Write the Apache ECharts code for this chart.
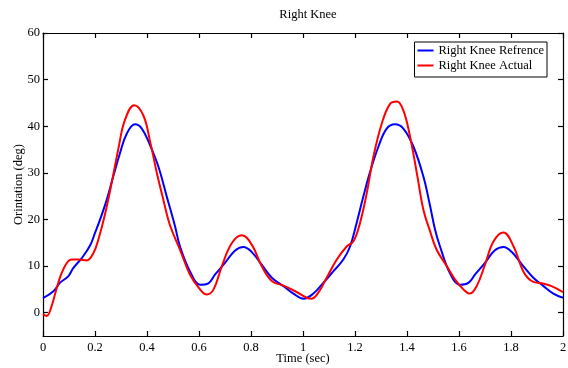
<!DOCTYPE html>
<html>
<head>
<meta charset="utf-8">
<script src="https://cdn.jsdelivr.net/npm/echarts@6/dist/echarts.min.js"></script>
<style>
  html, body { margin: 0; padding: 0; background: #fff; }
  #chart { width: 568px; height: 368px; }
</style>
</head>
<body>
<div id="chart"></div>
<script>
// Right knee orientation over two gait cycles
const refTime  = [0.00, 0.04, 0.065, 0.097, 0.117, 0.149, 0.181, 0.20, 0.219, 0.245, 0.27, 0.296, 0.322, 0.354, 0.38, 0.412, 0.444, 0.476, 0.508,
                  0.527, 0.565, 0.604, 0.636, 0.662, 0.70, 0.738, 0.771, 0.803, 0.841, 0.88, 0.925, 0.963, 1.002,
                  1.04, 1.078, 1.117, 1.155, 1.181, 1.206, 1.232, 1.258, 1.29, 1.322, 1.354, 1.386, 1.425, 1.463, 1.488, 1.508,
                  1.527, 1.565, 1.604, 1.636, 1.662, 1.70, 1.738, 1.771, 1.803, 1.847, 1.886, 1.925, 1.963, 2.00];
const refAngle = [3.1, 4.6, 6.4, 7.8, 9.6, 11.7, 14.4, 17.1, 19.9, 24.2, 29.2, 34.2, 38.4, 40.4, 39.5, 35.9, 31.3, 24.9, 18.5,
                  14.2, 8.9, 6.0, 6.3, 8.2, 10.7, 13.3, 14.1, 13.0, 10.3, 7.5, 5.7, 4.1, 3.0,
                  4.1, 6.4, 8.9, 11.4, 14.2, 19.2, 24.9, 30.2, 35.6, 39.5, 40.4, 39.5, 35.6, 29.2, 23.1, 17.8,
                  14.2, 8.5, 6.0, 6.4, 8.2, 10.7, 13.4, 14.1, 13.0, 10.0, 7.5, 5.7, 4.1, 3.2];

const actTime  = [0.00, 0.014, 0.033, 0.053, 0.078, 0.11, 0.136, 0.168, 0.194, 0.213, 0.238, 0.264, 0.29, 0.315, 0.351, 0.386, 0.412, 0.437, 0.463, 0.488,
                  0.527, 0.565, 0.604, 0.63, 0.656, 0.688, 0.726, 0.765, 0.803, 0.841, 0.88, 0.925, 0.97, 1.014,
                  1.033, 1.059, 1.091, 1.13, 1.168, 1.194, 1.219, 1.245, 1.271, 1.303, 1.335, 1.361, 1.386, 1.412, 1.438, 1.463, 1.488,
                  1.514, 1.553, 1.585, 1.617, 1.642, 1.668, 1.70, 1.733, 1.771, 1.81, 1.847, 1.879, 1.918, 1.956, 2.00];
const actAngle = [-0.3, -0.7, 1.4, 5.3, 9.3, 11.4, 11.4, 11.2, 12.8, 15.7, 21.0, 27.8, 35.2, 41.3, 44.5, 42.3, 36.7, 30.2, 24.2, 18.8,
                  13.5, 8.2, 5.0, 3.9, 5.0, 10.0, 14.9, 16.6, 14.6, 10.0, 6.8, 5.8, 4.6, 3.2,
                  3.0, 4.3, 7.5, 11.4, 14.2, 15.3, 19.2, 25.6, 33.5, 40.6, 44.8, 45.3, 43.4, 37.7, 29.9, 22.1, 17.6,
                  13.5, 10.0, 7.1, 5.0, 4.1, 5.7, 10.3, 15.3, 17.2, 14.2, 8.9, 6.8, 6.3, 5.7, 4.4];

const yTicks = [0, 10, 20, 30, 40, 50, 60];

const pairs = (xs, ys) => xs.map((x, i) => [x, ys[i]]);
const font = '"Liberation Serif", "Times New Roman", serif';

const chart = echarts.init(document.getElementById('chart'), null, { renderer: 'canvas' });

const frameLine = { show: true, onZero: false, lineStyle: { color: '#000', width: 1.2 } };
const innerTick = { show: true, inside: true, length: 5, lineStyle: { color: '#000', width: 1.2 } };

chart.setOption({
  backgroundColor: '#fff',
  animation: false,
  title: {
    text: 'Right Knee',
    left: 303, top: 3, textAlign: 'center',
    textStyle: { fontFamily: font, fontSize: 12.5, fontWeight: 'normal', color: '#000' }
  },
  legend: {
    orient: 'vertical',
    right: 21, top: 42,
    backgroundColor: '#fff',
    borderColor: '#000', borderWidth: 1,
    padding: [2, 3, 5, 3],
    itemGap: 2,
    itemWidth: 16, itemHeight: 2,
    icon: 'rect',
    textStyle: { fontFamily: font, fontSize: 12.5, color: '#000', lineHeight: 12 },
    data: ['Right Knee Refrence', 'Right Knee Actual']
  },
  grid: { left: 43, right: 5, top: 33, bottom: 32, containLabel: false, outerBoundsMode: 'none' },
  xAxis: [
    {
      type: 'value', min: 0, max: 2, interval: 0.2,
      name: 'Time (sec)', nameLocation: 'middle', nameGap: 16, nameMoveOverlap: false,
      nameTextStyle: { fontFamily: font, fontSize: 12.5, color: '#000' },
      axisLine: frameLine, axisTick: innerTick, splitLine: { show: false },
      axisLabel: { fontFamily: font, fontSize: 12.5, color: '#000', margin: 5,
                   formatter: v => String(+v.toFixed(1)) }
    },
    {
      type: 'value', min: 0, max: 2, interval: 0.2, position: 'top',
      axisLine: frameLine, axisTick: innerTick, splitLine: { show: false },
      axisLabel: { show: false }
    }
  ],
  yAxis: [
    {
      type: 'value', min: -5, max: 60,
      name: 'Orintation (deg)', nameLocation: 'middle', nameGap: 18, nameMoveOverlap: false,
      nameTextStyle: { fontFamily: font, fontSize: 12.5, color: '#000' },
      axisLine: frameLine,
      axisTick: Object.assign({ customValues: yTicks }, innerTick),
      splitLine: { show: false },
      axisLabel: { fontFamily: font, fontSize: 12.5, color: '#000', margin: 3, customValues: yTicks }
    },
    {
      type: 'value', min: -5, max: 60, position: 'right',
      axisLine: frameLine,
      axisTick: Object.assign({ customValues: yTicks }, innerTick),
      splitLine: { show: false },
      axisLabel: { show: false }
    }
  ],
  series: [
    {
      name: 'Right Knee Refrence', type: 'line',
      data: pairs(refTime, refAngle),
      smooth: 0.4, showSymbol: false, symbol: 'none',
      lineStyle: { color: '#0000ff', width: 2 },
      itemStyle: { color: '#0000ff' },
      z: 3
    },
    {
      name: 'Right Knee Actual', type: 'line',
      data: pairs(actTime, actAngle),
      smooth: 0.4, showSymbol: false, symbol: 'none',
      lineStyle: { color: '#ff0000', width: 2 },
      itemStyle: { color: '#ff0000' },
      z: 4
    }
  ]
});
</script>
</body>
</html>
